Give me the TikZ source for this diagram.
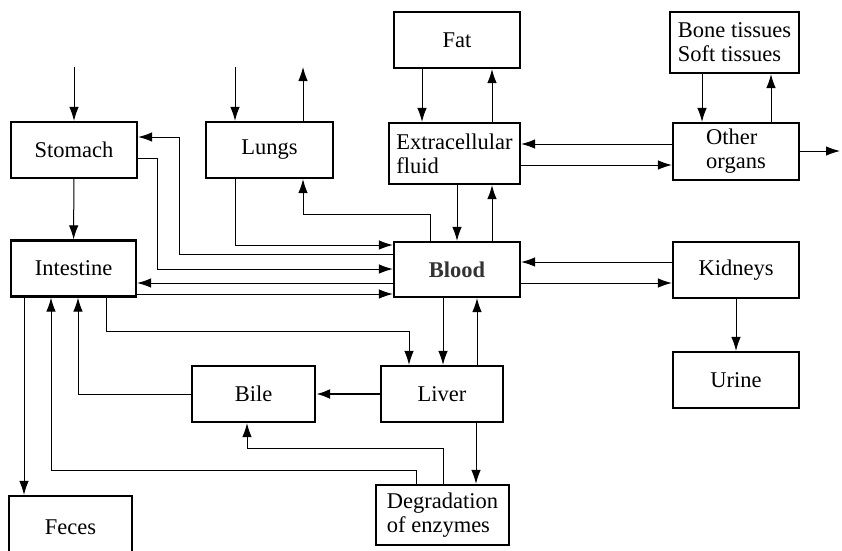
\documentclass[tikz,border=0pt]{standalone}
\usepackage{fontspec}
\setmainfont{Liberation Serif}
\usetikzlibrary{arrows.meta}
\begin{document}
\begin{tikzpicture}[x=1pt,y=-1pt,
  box/.style={draw,line width=2.2pt,minimum height=56pt,inner sep=0pt,
    font=\fontsize{22.5}{24}\selectfont},
  flow/.style={line width=1pt,-{Latex[length=14pt,width=9.5pt]}},
  thickflow/.style={line width=2.4pt,-{Latex[length=14pt,width=10pt]}}]
\clip (0,0) rectangle (842,550);
\fill[white] (0,0) rectangle (842,550);

% compartments
\node[box,minimum width=126pt] (stomach) at (74,150) {Stomach};
\node[box,minimum width=125pt] (intestine) at (73.5,268.5) {Intestine};
\node[box,minimum width=127pt] (lungs) at (269.5,150) {Lungs};
\node[box,minimum width=126pt] (fat) at (457,40) {Fat};
\node[box,minimum width=131pt,minimum height=61pt,align=left] (ecf) at (454.5,153.5) {Extracellular\\fluid};
\node[box,minimum width=129pt,minimum height=61pt,align=left] (bone) at (734.5,42.5) {Bone tissues\\Soft tissues};
\node[box,minimum width=126pt,minimum height=57pt,align=left] (other) at (736,151.5) {Other\\organs};
\node[box,minimum width=126pt,minimum height=55pt,font=\fontsize{22.5}{24}\selectfont\bfseries,text=black!80] (blood) at (457,269.5) {Blood};
\node[box,minimum width=126pt] (kidneys) at (736,270) {Kidneys};
\node[box,minimum width=126pt] (urine) at (736,380) {Urine};
\node[box,minimum width=122pt] (liver) at (442,394) {Liver};
\node[box,minimum width=123pt] (bile) at (253.5,394) {Bile};
\node[box,minimum width=133pt,minimum height=60pt,align=left] (degr) at (442.5,515) {Degradation\\of enzymes};
\node[box,minimum width=123pt,minimum height=62pt] (feces) at (70.5,527) {Feces};

% free ends of the intake and outflow lines
\coordinate (foodin) at (74,67);
\coordinate (airin) at (235,67);
\coordinate (airout) at (303,67);
\coordinate (excr) at (840,151);

% intake and exhalation
\draw[flow] (foodin) -- (stomach.north);
\draw[flow] (airin) -- (airin |- lungs.north);
\draw[flow] (airout |- lungs.north) -- (airout);
\draw[flow] (stomach) -- (intestine);

% gut and lungs to and from blood
\draw[flow] (lungs.south -| 235,0) |- (blood.west |- 0,245);
\draw[flow] (blood.west |- 0,254) -| (179,137) -- (stomach.east |- 0,137);
\draw[flow] (stomach.east |- 0,158) -| (157,269) -- (blood.west |- 0,269);
\draw[flow] (blood.west |- 0,283) -- (intestine.east |- 0,283);
\draw[flow] (intestine.east |- 0,294) -- (blood.west |- 0,294);
\draw[flow] (blood.north -| 430,0) |- (303,214) -- (lungs.south -| 303,0);

% fat, extracellular fluid and other organs
\draw[flow] (fat.south -| 422,0) -- (ecf.north -| 422,0);
\draw[flow] (ecf.north -| 492,0) -- (fat.south -| 492,0);
\draw[flow] (other.west |- 0,144) -- (ecf.east |- 0,144);
\draw[flow] (ecf.east |- 0,165) -- (other.west |- 0,165);
\draw[flow] (bone.south -| 702,0) -- (other.north -| 702,0);
\draw[flow] (other.north -| 771,0) -- (bone.south -| 771,0);
\draw[flow] (other.east |- excr) -- (excr);
\draw[flow] (ecf.south -| 457,0) -- (blood.north -| 457,0);
\draw[flow] (blood.north -| 492,0) -- (ecf.south -| 492,0);

% kidneys
\draw[flow] (kidneys.west |- 0,262) -- (blood.east |- 0,262);
\draw[flow] (blood.east |- 0,283) -- (kidneys.west |- 0,283);
\draw[flow] (kidneys) -- (urine);

% intestine, liver, bile and degradation
\draw[flow] (intestine.south -| 24,0) -- (feces.north -| 24,0);
\draw[flow] (intestine.south -| 106,0) |- (409,331) -- (liver.north -| 409,0);
\draw[flow] (blood.south -| 443,0) -- (liver.north -| 443,0);
\draw[flow] (liver.north -| 477,0) -- (blood.south -| 477,0);
\draw[thickflow] (liver) -- (bile);
\draw[flow] (bile.west) -| (intestine.south -| 78,0);
\draw[flow] (liver.south -| 476,0) -- (degr.north -| 476,0);
\draw[flow] (degr.north -| 443,0) |- (247,448) -- (bile.south -| 247,0);
\draw[flow] (degr.north -| 416,0) |- (51,470) -- (intestine.south -| 51,0);
\end{tikzpicture}
\end{document}
